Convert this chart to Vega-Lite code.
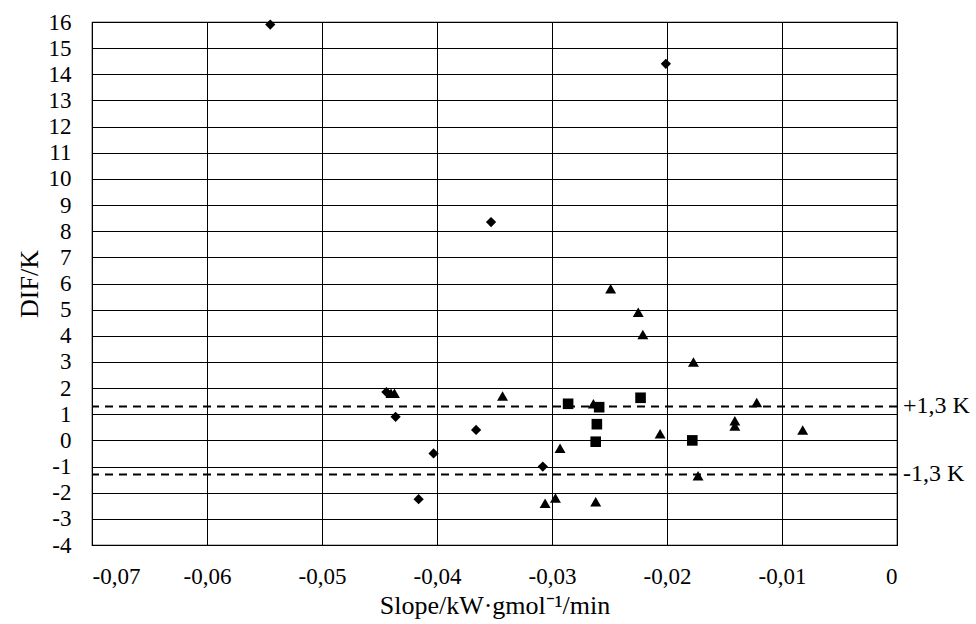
{
  "$schema": "https://vega.github.io/schema/vega-lite/v6.json",
  "width": 805,
  "height": 523,
  "autosize": "none",
  "padding": {"left": 92, "top": 22, "right": 79, "bottom": 79},
  "background": "white",
  "config": {
    "font": "Liberation Serif",
    "locale": {"number": {"decimal": ",", "thousands": ".", "grouping": [3], "currency": ["", ""], "minus": "-"}},
    "view": {"stroke": "black", "strokeWidth": 1.2},
    "axis": {
      "gridColor": "black", "gridOpacity": 1, "gridWidth": 1,
      "domainColor": "black", "ticks": false, "labelOverlap": false,
      "labelFont": "Liberation Serif", "labelFontSize": 23, "labelColor": "black",
      "titleFont": "Liberation Serif", "titleFontSize": 26, "titleFontWeight": "normal", "titleColor": "black"
    }
  },
  "datasets": {
    "pts": [
      {"slope": -0.0545, "dif": 15.9, "series": "A"},
      {"slope": -0.0201, "dif": 14.4, "series": "A"},
      {"slope": -0.0353, "dif": 8.35, "series": "A"},
      {"slope": -0.0444, "dif": 1.85, "series": "A"},
      {"slope": -0.0436, "dif": 0.9, "series": "A"},
      {"slope": -0.0366, "dif": 0.4, "series": "A"},
      {"slope": -0.0403, "dif": -0.5, "series": "A"},
      {"slope": -0.0308, "dif": -1.0, "series": "A"},
      {"slope": -0.0416, "dif": -2.25, "series": "A"},
      {"slope": -0.0286, "dif": 1.4, "series": "B"},
      {"slope": -0.0259, "dif": 1.27, "series": "B"},
      {"slope": -0.0261, "dif": 0.62, "series": "B"},
      {"slope": -0.0262, "dif": -0.05, "series": "B"},
      {"slope": -0.0223, "dif": 1.63, "series": "B"},
      {"slope": -0.0178, "dif": 0.0, "series": "B"},
      {"slope": -0.0440, "dif": 1.8, "series": "C"},
      {"slope": -0.0437, "dif": 1.8, "series": "C"},
      {"slope": -0.0343, "dif": 1.7, "series": "C"},
      {"slope": -0.0264, "dif": 1.4, "series": "C"},
      {"slope": -0.0206, "dif": 0.25, "series": "C"},
      {"slope": -0.0293, "dif": -0.3, "series": "C"},
      {"slope": -0.0306, "dif": -2.4, "series": "C"},
      {"slope": -0.0297, "dif": -2.2, "series": "C"},
      {"slope": -0.0262, "dif": -2.35, "series": "C"},
      {"slope": -0.0249, "dif": 5.8, "series": "C"},
      {"slope": -0.0225, "dif": 4.9, "series": "C"},
      {"slope": -0.0221, "dif": 4.05, "series": "C"},
      {"slope": -0.0177, "dif": 3.0, "series": "C"},
      {"slope": -0.0122, "dif": 1.45, "series": "C"},
      {"slope": -0.0141, "dif": 0.75, "series": "C"},
      {"slope": -0.0141, "dif": 0.55, "series": "C"},
      {"slope": -0.0082, "dif": 0.4, "series": "C"},
      {"slope": -0.0173, "dif": -1.35, "series": "C"}
    ],
    "lims": [
      {"slope": 0, "dif": 1.3, "label": "+1,3 K"},
      {"slope": 0, "dif": -1.3, "label": "-1,3 K"}
    ]
  },
  "encoding": {
    "x": {
      "field": "slope", "type": "quantitative",
      "scale": {"domain": [-0.07, 0], "nice": false, "zero": false},
      "axis": {"values": [-0.07, -0.06, -0.05, -0.04, -0.03, -0.02, -0.01, 0], "format": "~g", "labelFontSize": 23, "labelPadding": 20, "title": "Slope/kW·gmol⁻¹/min", "titleFontSize": 26, "titlePadding": 4, "grid": true}
    },
    "y": {
      "field": "dif", "type": "quantitative",
      "scale": {"domain": [-4, 16], "nice": false},
      "axis": {"values": [-4, -3, -2, -1, 0, 1, 2, 3, 4, 5, 6, 7, 8, 9, 10, 11, 12, 13, 14, 15, 16], "labelFontSize": 23, "labelPadding": 21, "title": "DIF/K", "titleFontSize": 26, "titlePadding": 6, "grid": true}
    }
  },
  "layer": [
    {
      "data": {"name": "pts"},
      "mark": {"type": "point", "filled": true, "opacity": 1, "color": "black"},
      "encoding": {
        "shape": {
          "field": "series", "type": "nominal",
          "scale": {"domain": ["A", "B", "C"], "range": ["diamond", "square", "triangle-up"]},
          "legend": null
        },
        "size": {
          "field": "series", "type": "nominal",
          "scale": {"domain": ["A", "B", "C"], "range": [105, 120, 145]},
          "legend": null
        }
      }
    },
    {
      "data": {"name": "lims"},
      "mark": {"type": "rule", "color": "black", "strokeWidth": 2, "strokeDash": [8, 6]},
      "encoding": {
        "x": null
      }
    },
    {
      "data": {"name": "lims"},
      "mark": {"type": "text", "align": "left", "baseline": "middle", "dx": 6, "fontSize": 24, "font": "Liberation Serif", "color": "black"},
      "encoding": {
        "text": {"field": "label"}
      }
    }
  ]
}
